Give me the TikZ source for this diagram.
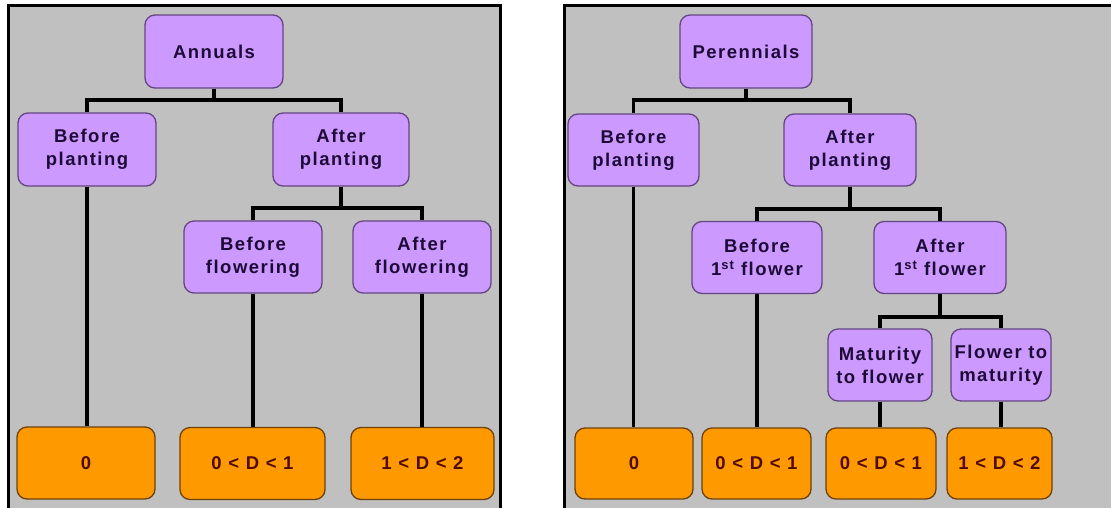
\documentclass[tikz,border=0pt]{standalone}
\usepackage{fontspec}
\newfontfamily\lblfont[LetterSpace=8]{Liberation Sans Bold}
\usetikzlibrary{calc}
\definecolor{panelgray}{RGB}{192,192,192}
\definecolor{lilac}{RGB}{204,153,255}
\definecolor{lilacedge}{RGB}{100,70,130}
\definecolor{lilactext}{RGB}{30,10,55}
\definecolor{orangefill}{RGB}{255,153,0}
\definecolor{orangeedge}{RGB}{110,65,10}
\definecolor{orangetext}{RGB}{80,10,10}
\tikzset{
  x=1pt, y=-1pt,
  box/.style={rounded corners=10pt, line width=1.3pt, align=center, inner sep=0pt,
    font=\lblfont\fontsize{18.5}{23}\selectfont},
  pbox/.style={box, draw=lilacedge, fill=lilac, text=lilactext},
  obox/.style={box, draw=orangeedge, fill=orangefill, text=orangetext},
  wire/.style={line width=3.3pt, black},
  panel/.style={draw=black, line width=3pt, fill=panelgray}
}
\begin{document}
\begin{tikzpicture}
\useasboundingbox (0,0) rectangle (1111,507);
\clip (0,0) rectangle (1111,507);
\fill[white] (0,0) rectangle (1111,507);
\draw[panel] (8,5) rectangle (500,530);
\draw[panel] (564,5) rectangle (1130,530);

% ---- left panel ----
\node[pbox, minimum width=138pt, minimum height=73pt] (A) at (214,51.5) {Annuals};
\node[pbox, minimum width=138pt, minimum height=73pt] (bp1) at (87,149.5) {Before\\planting};
\node[pbox, minimum width=136pt, minimum height=73pt] (ap1) at (341,149.5) {After\\planting};
\node[pbox, minimum width=138pt, minimum height=72pt] (bf1) at (253,257) {Before\\flowering};
\node[pbox, minimum width=138pt, minimum height=72pt] (af1) at (422,257) {After\\flowering};
\node[obox, minimum width=138pt, minimum height=72pt] (o1) at (86,463) {0};
\node[obox, minimum width=145pt, minimum height=72pt] (o2) at (252.5,463.5) {0 < D < 1};
\node[obox, minimum width=143pt, minimum height=72pt] (o3) at (422.5,463.5) {1 < D < 2};

\coordinate (b1) at (A.south |- 0,100);
\coordinate (b2) at (ap1.south |- 0,208);
\draw[wire] (A.south) -- (b1);
\draw[wire] (bp1.north) |- (b1) -| (ap1.north);
\draw[wire] (ap1.south) -- (b2);
\draw[wire] (bf1.north) |- (b2) -| (af1.north);
\draw[wire] (bp1.south) -- (bp1.south |- o1.north);
\draw[wire] (bf1.south) -- (bf1.south |- o2.north);
\draw[wire] (af1.south) -- (af1.south |- o3.north);

% ---- right panel ----
\node[pbox, minimum width=132pt, minimum height=73pt] (P) at (746,51.5) {Perennials};
\node[pbox, minimum width=131pt, minimum height=72pt] (bp2) at (633.5,150) {Before\\planting};
\node[pbox, minimum width=132pt, minimum height=72pt] (ap2) at (850,150) {After\\planting};
\node[pbox, minimum width=130pt, minimum height=72pt] (bf2) at (757,257.5) {Before\\1\textsuperscript{st} flower};
\node[pbox, minimum width=132pt, minimum height=72pt] (af2) at (940,257.5) {After\\1\textsuperscript{st} flower};
\node[pbox, minimum width=104pt, minimum height=72pt] (mf) at (880,365) {Maturity\\to flower};
\node[pbox, minimum width=100pt, minimum height=72pt] (fm) at (1001,365) {Flower to\\maturity};
\node[obox, minimum width=118pt, minimum height=71pt] (o4) at (634,463.5) {0};
\node[obox, minimum width=109pt, minimum height=71pt] (o5) at (756.5,463.5) {0 < D < 1};
\node[obox, minimum width=110pt, minimum height=71pt] (o6) at (881,463.5) {0 < D < 1};
\node[obox, minimum width=105pt, minimum height=71pt] (o7) at (999.5,463.5) {1 < D < 2};

\coordinate (c1) at (P.south |- 0,100);
\coordinate (c2) at (ap2.south |- 0,209);
\coordinate (c3) at (af2.south |- 0,317);
\draw[wire] (P.south) -- (c1);
\draw[wire] (bp2.north) |- (c1) -| (ap2.north);
\draw[wire] (ap2.south) -- (c2);
\draw[wire] (bf2.north) |- (c2) -| (af2.north);
\draw[wire] (af2.south) -- (c3);
\draw[wire] (mf.north) |- (c3) -| (fm.north);
\draw[wire] (bp2.south) -- (bp2.south |- o4.north);
\draw[wire] (bf2.south) -- (bf2.south |- o5.north);
\draw[wire] (mf.south) -- (mf.south |- o6.north);
\draw[wire] (fm.south) -- (fm.south |- o7.north);
\end{tikzpicture}
\end{document}
